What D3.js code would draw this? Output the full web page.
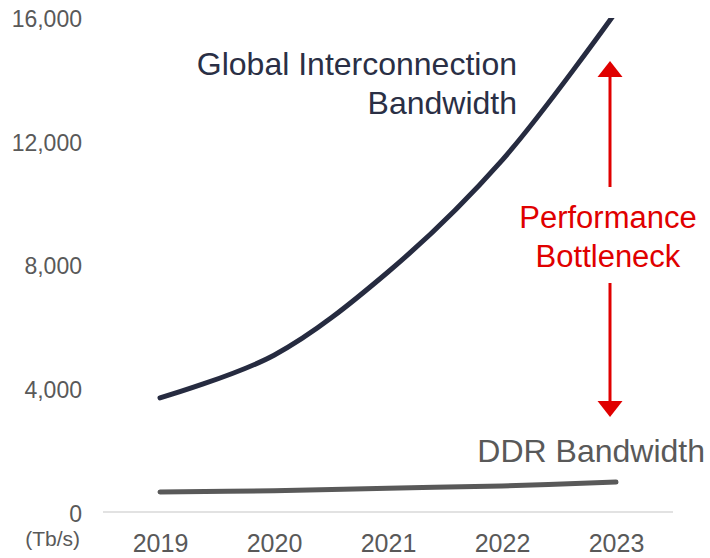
<!DOCTYPE html>
<html>
<head>
<meta charset="utf-8">
<script src="https://cdn.jsdelivr.net/npm/d3@7"></script>
<style>
  html, body { margin: 0; padding: 0; background: #fff; }
  svg { display: block; font-family: "Liberation Sans", Arial, sans-serif; }
</style>
</head>
<body>
<div id="chart"></div>
<script>
// ---- data ----
const years = ["2019", "2020", "2021", "2022", "2023"];
const globalBandwidth = [3720, 5100, 7790, 11400, 16200];
const ddrBandwidth = [680, 720, 800, 875, 1000];
const yTicks = [0, 4000, 8000, 12000, 16000];
const unitLabel = "(Tb/s)";
const globalLabel = ["Global Interconnection", "Bandwidth"];
const ddrLabel = "DDR Bandwidth";
const bottleneckLabel = ["Performance", "Bottleneck"];

// ---- layout ----
const W = 710, H = 558;
const svg = d3.select("#chart").append("svg").attr("width", W).attr("height", H);

const x = d3.scalePoint().domain(years).range([103, 673]).padding(0.5);
const y = d3.scaleLinear().domain([0, 16000]).range([513, 18]);

svg.append("defs").append("clipPath").attr("id", "plot")
  .append("rect").attr("x", 0).attr("y", y(16000)).attr("width", W).attr("height", y(0) - y(16000) + 10);

// x axis line
svg.append("line")
  .attr("x1", 103).attr("x2", 673)
  .attr("y1", y(0) - 1).attr("y2", y(0) - 1)
  .attr("stroke", "#d9d9d9").attr("stroke-width", 1.5);

// y tick labels
const yAxis = d3.axisLeft(y).tickValues(yTicks).tickSize(0).tickPadding(0)
  .tickFormat(d3.format(","));
const gy = svg.append("g").attr("transform", "translate(82,0)").call(yAxis);
gy.select(".domain").remove();
gy.selectAll("text").attr("fill", "#595959").attr("font-size", 23)
  .attr("font-family", "Liberation Sans, Arial, sans-serif").attr("dy", "0.36em");

svg.append("text").attr("x", 80).attr("y", 546).attr("text-anchor", "end")
  .attr("fill", "#595959").attr("font-size", 21).text(unitLabel);

// x tick labels
const xAxis = d3.axisBottom(x).tickSize(0).tickPadding(0);
const gx = svg.append("g").attr("transform", "translate(0,552)").call(xAxis);
gx.select(".domain").remove();
gx.selectAll("text").attr("fill", "#595959").attr("font-size", 25)
  .attr("font-family", "Liberation Sans, Arial, sans-serif").attr("dy", 0);

// lines
const line = d3.line().x((d, i) => x(years[i])).y(d => y(d)).curve(d3.curveCatmullRom.alpha(0.5));

svg.append("path").datum(ddrBandwidth)
  .attr("d", line).attr("fill", "none")
  .attr("stroke", "#595959").attr("stroke-width", 5).attr("stroke-linecap", "round");

svg.append("path").datum(globalBandwidth)
  .attr("clip-path", "url(#plot)")
  .attr("d", line).attr("fill", "none")
  .attr("stroke", "#262b40").attr("stroke-width", 5).attr("stroke-linecap", "round");

// annotations
const gl = svg.append("text").attr("text-anchor", "end").attr("fill", "#2a2f45").attr("font-size", 32);
gl.append("tspan").attr("x", 517).attr("y", 75).text(globalLabel[0]);
gl.append("tspan").attr("x", 517).attr("y", 114).text(globalLabel[1]);

svg.append("text").attr("x", 705).attr("y", 462).attr("text-anchor", "end")
  .attr("fill", "#595959").attr("font-size", 32).text(ddrLabel);

const red = "#e00000";
const ax = x("2023") - 6;
const bl = svg.append("text").attr("text-anchor", "middle").attr("fill", red).attr("font-size", 31);
bl.append("tspan").attr("x", 608).attr("y", 228).text(bottleneckLabel[0]);
bl.append("tspan").attr("x", 608).attr("y", 267).text(bottleneckLabel[1]);

// arrow (upper)
svg.append("line").attr("x1", ax).attr("x2", ax).attr("y1", 76).attr("y2", 187)
  .attr("stroke", red).attr("stroke-width", 3);
svg.append("path").attr("d", `M${ax},61 L${ax - 12.5},77 L${ax + 12.5},77 Z`).attr("fill", red);
// arrow (lower)
svg.append("line").attr("x1", ax).attr("x2", ax).attr("y1", 283).attr("y2", 402)
  .attr("stroke", red).attr("stroke-width", 3);
svg.append("path").attr("d", `M${ax},417 L${ax - 12.5},401 L${ax + 12.5},401 Z`).attr("fill", red);
</script>
</body>
</html>
